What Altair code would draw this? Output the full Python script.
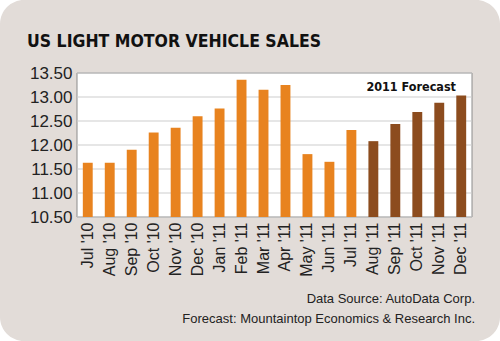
import altair as alt
import pandas as pd

months = ["Jul '10", "Aug '10", "Sep '10", "Oct '10", "Nov '10", "Dec '10",
          "Jan '11", "Feb '11", "Mar '11", "Apr '11", "May '11", "Jun '11",
          "Jul '11", "Aug '11", "Sep '11", "Oct '11", "Nov '11", "Dec '11"]
sales = [11.63, 11.63, 11.90, 12.26, 12.36, 12.60, 12.76, 13.36, 13.15, 13.25,
         11.81, 11.65, 12.31, 12.08, 12.44, 12.69, 12.88, 13.03]
kind = ["Actual"] * 13 + ["Forecast"] * 5
y_ticks = [10.5, 11.0, 11.5, 12.0, 12.5, 13.0, 13.5]
y_min = 10.5
y_max = 13.5

W, H = 395, 144
PAD_L, PAD_T, PAD_R, PAD_B = 77, 73, 28, 124

df = pd.DataFrame({"month": months, "sales": sales, "kind": kind,
                   "base": [y_min] * len(months)})
grid_df = pd.DataFrame({"g": y_ticks})
one = pd.DataFrame({"a": [0]})

yscale = alt.Scale(domain=[y_min, y_max], zero=False, nice=False)
yaxis = alt.Axis(values=y_ticks, format=".2f", labelFontSize=17,
                 labelFont="Liberation Sans", labelColor="#222222",
                 labelPadding=5, ticks=False, domain=False, grid=False, zindex=1)

bg = alt.Chart(one).mark_rect(color="#E2DCD8", cornerRadius=24).encode(
    x=alt.value(-PAD_L), x2=alt.value(W + PAD_R),
    y=alt.value(-PAD_T), y2=alt.value(H + PAD_B))

plot_bg = alt.Chart(one).mark_rect(fill="white", stroke="#8C8C8C", strokeWidth=1).encode(
    x=alt.value(0), x2=alt.value(W), y=alt.value(0), y2=alt.value(H))

grid = alt.Chart(grid_df).mark_rule(color="#CDCDCD", strokeWidth=1).encode(
    y=alt.Y("g:Q", scale=yscale, axis=yaxis, title=None))

bars = alt.Chart(df).mark_bar().encode(
    x=alt.X("month:N", sort=months, title=None,
            scale=alt.Scale(paddingInner=0.55, paddingOuter=0.265),
            axis=alt.Axis(labelAngle=270, labelFontSize=16, labelFont="Liberation Sans",
                          labelColor="#222222", labelPadding=5, ticks=False,
                          domain=False, grid=False, zindex=1)),
    y=alt.Y("sales:Q", scale=yscale, title=None, axis=yaxis),
    y2="base:Q",
    color=alt.Color("kind:N", legend=None,
                    scale=alt.Scale(domain=["Actual", "Forecast"],
                                    range=["#E8831F", "#8C4C1E"])))

title = alt.Chart(one).mark_text(
    text="US LIGHT MOTOR VEHICLE SALES", align="left", baseline="alphabetic",
    font="DejaVu Sans Condensed", fontWeight="bold", fontSize=17.5, color="#111111"
).encode(x=alt.value(-50), y=alt.value(-26))

fc = alt.Chart(one).mark_text(
    text="2011 Forecast", align="right", baseline="alphabetic",
    font="DejaVu Sans Condensed", fontWeight="bold", fontSize=12.5, color="#111111"
).encode(x=alt.value(379), y=alt.value(18))

foot1 = alt.Chart(one).mark_text(
    text="Data Source: AutoData Corp.", align="right", baseline="alphabetic",
    font="Liberation Sans", fontSize=13, color="#222222"
).encode(x=alt.value(398), y=alt.value(230))

foot2 = alt.Chart(one).mark_text(
    text="Forecast: Mountaintop Economics & Research Inc.", align="right",
    baseline="alphabetic", font="Liberation Sans", fontSize=13, color="#222222"
).encode(x=alt.value(398), y=alt.value(250))

chart = alt.layer(bg, plot_bg, grid, bars, title, fc, foot1, foot2).properties(
    width=W, height=H,
    autosize=alt.AutoSizeParams(type="none"),
    padding={"left": PAD_L, "top": PAD_T, "right": PAD_R, "bottom": PAD_B},
    background="white",
).configure_view(strokeWidth=0)

chart.save("out.html", embed_options={"renderer": "svg", "actions": False})
